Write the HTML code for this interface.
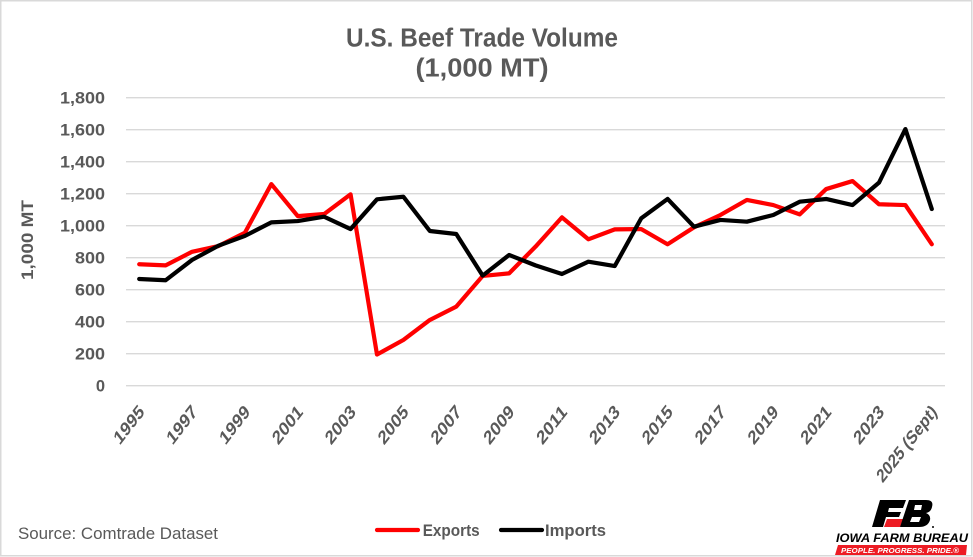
<!DOCTYPE html>
<html><head><meta charset="utf-8"><style>
html,body{margin:0;padding:0;background:#fff;}
svg{display:block;}
text{font-family:"Liberation Sans",Arial,sans-serif;}
</style></head><body>
<svg width="973" height="557" viewBox="0 0 973 557" xmlns="http://www.w3.org/2000/svg">
<rect x="0" y="0" width="973" height="557" fill="#fff"/>
<rect x="0.75" y="0.75" width="971" height="555" fill="none" stroke="#d9d9d9" stroke-width="1.5"/>
<!-- Title -->
<text x="482" y="46.7" text-anchor="middle" font-size="25.5" font-weight="bold" fill="#595959" textLength="272" lengthAdjust="spacingAndGlyphs">U.S. Beef Trade Volume</text>
<text x="482" y="76.5" text-anchor="middle" font-size="25.5" font-weight="bold" fill="#595959" textLength="133" lengthAdjust="spacingAndGlyphs">(1,000 MT)</text>
<!-- gridlines -->
<g stroke="#d9d9d9" stroke-width="1.4">
<line x1="126" y1="385.7" x2="945" y2="385.7"/>
<line x1="126" y1="353.7" x2="945" y2="353.7"/>
<line x1="126" y1="321.7" x2="945" y2="321.7"/>
<line x1="126" y1="289.7" x2="945" y2="289.7"/>
<line x1="126" y1="257.7" x2="945" y2="257.7"/>
<line x1="126" y1="225.7" x2="945" y2="225.7"/>
<line x1="126" y1="193.7" x2="945" y2="193.7"/>
<line x1="126" y1="161.7" x2="945" y2="161.7"/>
<line x1="126" y1="129.7" x2="945" y2="129.7"/>
<line x1="126" y1="97.7" x2="945" y2="97.7"/>
</g>
<!-- y labels -->
<g font-size="16.5" font-weight="bold" fill="#595959" text-anchor="end">
<text x="105" y="391.7">0</text>
<text x="105" y="359.7" textLength="30" lengthAdjust="spacingAndGlyphs">200</text>
<text x="105" y="327.7" textLength="30" lengthAdjust="spacingAndGlyphs">400</text>
<text x="105" y="295.7" textLength="30" lengthAdjust="spacingAndGlyphs">600</text>
<text x="105" y="263.7" textLength="30" lengthAdjust="spacingAndGlyphs">800</text>
<text x="105" y="231.7" textLength="45" lengthAdjust="spacingAndGlyphs">1,000</text>
<text x="105" y="199.7" textLength="45" lengthAdjust="spacingAndGlyphs">1,200</text>
<text x="105" y="167.7" textLength="45" lengthAdjust="spacingAndGlyphs">1,400</text>
<text x="105" y="135.7" textLength="45" lengthAdjust="spacingAndGlyphs">1,600</text>
<text x="105" y="103.7" textLength="45" lengthAdjust="spacingAndGlyphs">1,800</text>
</g>
<!-- y axis title -->
<text transform="translate(33,240) rotate(-90)" text-anchor="middle" font-size="16.5" font-weight="bold" fill="#595959" textLength="80" lengthAdjust="spacingAndGlyphs">1,000 MT</text>
<!-- x labels -->
<g font-size="15" font-weight="bold" fill="#595959" text-anchor="end">
<text transform="translate(145.2,413) scale(1,1.28) rotate(-45)" textLength="36" lengthAdjust="spacingAndGlyphs">1995</text>
<text transform="translate(198.1,413) scale(1,1.28) rotate(-45)" textLength="36" lengthAdjust="spacingAndGlyphs">1997</text>
<text transform="translate(250.9,413) scale(1,1.28) rotate(-45)" textLength="36" lengthAdjust="spacingAndGlyphs">1999</text>
<text transform="translate(303.7,413) scale(1,1.28) rotate(-45)" textLength="36" lengthAdjust="spacingAndGlyphs">2001</text>
<text transform="translate(356.6,413) scale(1,1.28) rotate(-45)" textLength="36" lengthAdjust="spacingAndGlyphs">2003</text>
<text transform="translate(409.4,413) scale(1,1.28) rotate(-45)" textLength="36" lengthAdjust="spacingAndGlyphs">2005</text>
<text transform="translate(462.3,413) scale(1,1.28) rotate(-45)" textLength="36" lengthAdjust="spacingAndGlyphs">2007</text>
<text transform="translate(515.1,413) scale(1,1.28) rotate(-45)" textLength="36" lengthAdjust="spacingAndGlyphs">2009</text>
<text transform="translate(567.9,413) scale(1,1.28) rotate(-45)" textLength="36" lengthAdjust="spacingAndGlyphs">2011</text>
<text transform="translate(620.8,413) scale(1,1.28) rotate(-45)" textLength="36" lengthAdjust="spacingAndGlyphs">2013</text>
<text transform="translate(673.6,413) scale(1,1.28) rotate(-45)" textLength="36" lengthAdjust="spacingAndGlyphs">2015</text>
<text transform="translate(726.5,413) scale(1,1.28) rotate(-45)" textLength="36" lengthAdjust="spacingAndGlyphs">2017</text>
<text transform="translate(779.3,413) scale(1,1.28) rotate(-45)" textLength="36" lengthAdjust="spacingAndGlyphs">2019</text>
<text transform="translate(832.1,413) scale(1,1.28) rotate(-45)" textLength="36" lengthAdjust="spacingAndGlyphs">2021</text>
<text transform="translate(885,413) scale(1,1.28) rotate(-45)" textLength="36" lengthAdjust="spacingAndGlyphs">2023</text>
<text transform="translate(937.8,413) scale(1,1.28) rotate(-45)" textLength="78" lengthAdjust="spacingAndGlyphs">2025 (Sept)</text>
</g>
<!-- series -->
<polyline fill="none" stroke="#ff0000" stroke-width="4.2" stroke-linejoin="round" stroke-linecap="round" points="139.21,264.26 165.63,265.38 192.05,251.78 218.47,246.02 244.89,232.74 271.31,184.1 297.73,216.1 324.15,214.02 350.57,194.34 376.99,354.5 403.41,339.94 429.83,319.94 456.25,306.66 482.67,275.94 509.09,273.38 535.51,246.66 561.93,217.38 588.35,239.3 614.77,229.38 641.19,229.06 667.61,244.26 694.03,227.3 720.45,214.98 746.87,199.94 773.29,205.06 799.71,214.34 826.13,189.06 852.55,181.06 878.97,204.26 905.39,205.06 931.81,244.26"/>
<polyline fill="none" stroke="#000000" stroke-width="4.2" stroke-linejoin="round" stroke-linecap="round" points="139.21,278.98 165.63,280.26 192.05,259.94 218.47,245.7 244.89,235.94 271.31,222.34 297.73,221.06 324.15,216.74 350.57,229.06 376.99,199.3 403.41,196.74 429.83,230.98 456.25,234.02 482.67,275.62 509.09,254.98 535.51,265.38 561.93,274.02 588.35,261.7 614.77,266.02 641.19,218.34 667.61,198.98 694.03,226.66 720.45,219.94 746.87,221.7 773.29,214.98 799.71,201.7 826.13,198.98 852.55,205.06 878.97,182.66 905.39,129.06 931.81,209.06"/>
<!-- legend -->
<line x1="377" y1="530" x2="418" y2="530" stroke="#ff0000" stroke-width="4.2" stroke-linecap="round"/>
<text x="422.7" y="536" font-size="16.5" font-weight="bold" fill="#595959" textLength="57" lengthAdjust="spacingAndGlyphs">Exports</text>
<line x1="501" y1="530" x2="542" y2="530" stroke="#000" stroke-width="4.2" stroke-linecap="round"/>
<text x="545" y="536" font-size="16.5" font-weight="bold" fill="#595959" textLength="61" lengthAdjust="spacingAndGlyphs">Imports</text>
<!-- source -->
<text x="18" y="539" font-size="16.5" fill="#595959" textLength="200" lengthAdjust="spacingAndGlyphs">Source: Comtrade Dataset</text>
<!-- logo -->
<polygon points="880,500 906,500 903,508 889,508 888,512 901,512 899,517 886,517 883,527 872,527" fill="#000"/>
<polygon points="887,519 903,519 900,527 884,527" fill="#ed1c24"/>
<path d="M909,500 L926,500 Q934,500 932,507 Q931,512 926,513 Q931,515 930,520 Q928,527 919,527 L900,527 Z" fill="#000"/>
<polygon points="915,505 922,505 921,510 914,510" fill="#fff"/>
<polygon points="912,517 921,517 919,522 910,522" fill="#fff"/>
<circle cx="933" cy="527" r="1" fill="#000"/>
<text x="836" y="542" font-size="12" font-weight="bold" font-style="italic" fill="#000" textLength="132" lengthAdjust="spacingAndGlyphs">IOWA FARM BUREAU</text>
<polygon points="838,545 967,545 966,555 835,555" fill="#ed1c24"/>
<text x="841" y="553" font-size="7.5" font-weight="bold" font-style="italic" fill="#fff" textLength="118" lengthAdjust="spacingAndGlyphs">PEOPLE. PROGRESS. PRIDE.®</text>
</svg>
</body></html>
